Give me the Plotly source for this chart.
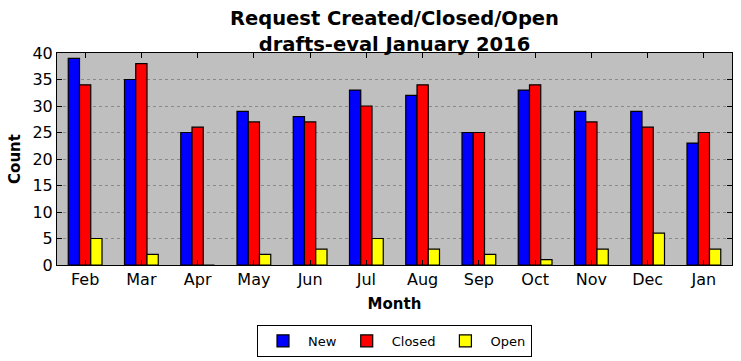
import plotly.graph_objects as go

months = ["Feb", "Mar", "Apr", "May", "Jun", "Jul", "Aug", "Sep", "Oct", "Nov", "Dec", "Jan"]
new = [39, 35, 25, 29, 28, 33, 32, 25, 33, 29, 29, 23]
closed = [34, 38, 26, 27, 27, 30, 34, 25, 34, 27, 26, 25]
open_ = [5, 2, 0, 2, 3, 5, 3, 2, 1, 3, 6, 3]

fig = go.Figure()
for name, vals, col in [("New", new, "#0000ff"), ("Closed", closed, "#ff0000"), ("Open", open_, "#ffff00")]:
    fig.add_trace(go.Bar(x=months, y=vals, name=name, marker=dict(color=col, line=dict(color="black", width=1.2))))

font = "DejaVu Sans"
fig.update_layout(
    width=741, height=361,
    margin=dict(l=57, r=9, t=53, b=96),
    paper_bgcolor="white", plot_bgcolor="#bfbfbf",
    barmode="group", bargap=0.4, bargroupgap=0,
    font=dict(family=font, color="black"),
    title=dict(text="<b>Request Created/Closed/Open<br>drafts-eval January 2016</b>",
               x=0.5, xanchor="center", xref="paper", yref="container", y=0.93, yanchor="top",
               automargin=False, font=dict(size=19.5, family=font)),
    legend=dict(orientation="h", x=0.5, xanchor="center", yref="container", y=0.1, yanchor="top",
                bordercolor="black", borderwidth=1, font=dict(size=13),
                itemwidth=40, traceorder="normal", tracegroupgap=0),
    xaxis=dict(range=[-0.5, 11.5], ticks="inside", ticklen=5, tickcolor="black",
               showline=True, linecolor="black", linewidth=1, mirror="allticks",
               tickfont=dict(size=16), showgrid=False, automargin=False,
               title=dict(text="<b>Month</b>", font=dict(size=15), standoff=10)),
    yaxis=dict(range=[0, 40], dtick=5, ticks="inside", ticklen=5, tickcolor="black",
               showline=True, linecolor="black", linewidth=1, mirror="allticks",
               tickfont=dict(size=16), showgrid=True, gridcolor="#8a8a8a", griddash="dot",
               gridwidth=1, zeroline=False, automargin=False,
               title=dict(text="<b>Count</b>", font=dict(size=15), standoff=8)),
)
fig.write_html("out.html", config={"displayModeBar": False},
               post_script="document.body.style.margin='0';document.body.style.overflow='hidden';")
